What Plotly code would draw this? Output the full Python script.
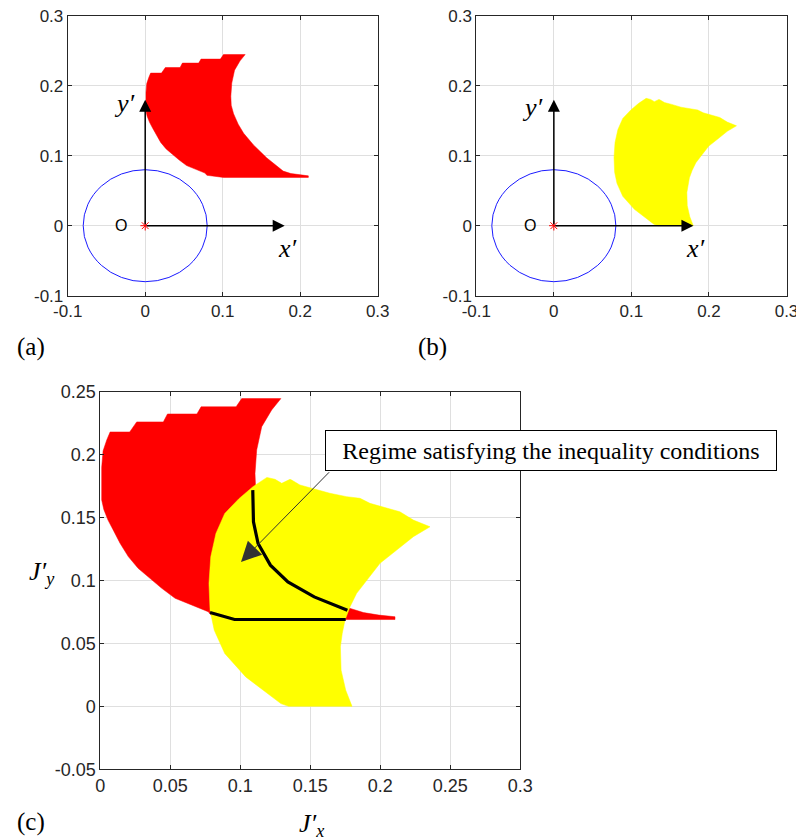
import plotly.graph_objects as go

OFF = 0
W, H = 796, 840

# ---------------- data ----------------
# red region (workspace of condition 1)
red_x = [0.001, 0.002, 0.0046, 0.007, 0.021, 0.026, 0.045, 0.048, 0.069, 0.072, 0.097, 0.101, 0.129,
         0.1224, 0.1153, 0.1117, 0.1105, 0.111, 0.114, 0.12, 0.127, 0.14, 0.157, 0.168, 0.178, 0.188,
         0.199, 0.2105, 0.2105, 0.101, 0.0796, 0.0771, 0.0653, 0.0534, 0.0439, 0.0355, 0.027, 0.02,
         0.0141, 0.0093, 0.0055, 0.0025, 0.001, 0.001]
red_y = [0.19, 0.203, 0.2116, 0.218, 0.218, 0.226, 0.226, 0.2323, 0.2323, 0.238, 0.238, 0.2445, 0.2445,
         0.2355, 0.2222, 0.2037, 0.185, 0.172, 0.16, 0.145, 0.132, 0.115, 0.0967, 0.087, 0.078, 0.0745,
         0.0725, 0.0712, 0.069, 0.069, 0.072, 0.0752, 0.0805, 0.0859, 0.0938, 0.1017, 0.1097, 0.119,
         0.1296, 0.140, 0.148, 0.1565, 0.164, 0.19]

# yellow region (workspace of condition 2)
yel_x = [0.119, 0.109, 0.099, 0.0889, 0.0826, 0.0789, 0.0776, 0.0784, 0.0814, 0.0889, 0.1039, 0.119,
         0.129, 0.1345, 0.1798, 0.1753, 0.172, 0.1715, 0.1728, 0.1748, 0.1784, 0.1831, 0.1903, 0.1998,
         0.2117, 0.2236, 0.2355, 0.2236, 0.214, 0.2046, 0.1926, 0.1855, 0.176, 0.164, 0.152, 0.1426,
         0.1367, 0.1355, 0.1296, 0.1248, 0.119]
yel_y = [0.1819, 0.1745, 0.165, 0.1533, 0.1374, 0.1188, 0.0976, 0.0764, 0.0605, 0.042, 0.0234, 0.0102,
         0.0022, 0.0, 0.0, 0.0128, 0.0287, 0.0473, 0.0579, 0.0686, 0.0792, 0.0898, 0.1004, 0.1137,
         0.1242, 0.1348, 0.1427, 0.148, 0.1546, 0.1573, 0.1613, 0.1653, 0.1666, 0.1693, 0.1733, 0.1759,
         0.1798, 0.1804, 0.1772, 0.1804, 0.1819]

# boundary of regime satisfying the inequality conditions
curve_x = [0.1089, 0.1094, 0.1127, 0.1215, 0.134, 0.1528, 0.1765]
curve_y = [0.1718, 0.1466, 0.1294, 0.1122, 0.0989, 0.087, 0.0764]
base_x = [0.0784, 0.0959, 0.1753]
base_y = [0.0746, 0.069, 0.069]

circle_r = 0.08
axis_arrow_len = 0.18

top_ticks = [-0.1, 0, 0.1, 0.2, 0.3]
top_ticktext = ["-0.1", "0", "0.1", "0.2", "0.3"]
c_xticks = [0, 0.05, 0.1, 0.15, 0.2, 0.25, 0.3]
c_xticktext = ["0", "0.05", "0.1", "0.15", "0.2", "0.25", "0.3"]
c_yticks = [-0.05, 0, 0.05, 0.1, 0.15, 0.2, 0.25]
c_yticktext = ["-0.05", "0", "0.05", "0.1", "0.15", "0.2", "0.25"]

annot_text = "Regime satisfying the inequality conditions"
annot_tip = (0.1005, 0.1147)
annot_tail = (0.1645, 0.1872)

# ---------------- figure ----------------
RED = "#ff0000"
YEL = "#ffff00"
AX = "#262626"
GRID = "#dfdfdf"
SERIF = "Liberation Serif"
SANS = "Liberation Sans"

fig = go.Figure()

def poly(x, y, color, xa, ya):
    fig.add_trace(go.Scatter(x=x, y=y, fill="toself", fillcolor=color, mode="lines",
                             line=dict(width=0.5, color=color), xaxis=xa, yaxis=ya,
                             hoverinfo="skip", showlegend=False))

poly(red_x, red_y, RED, "x", "y")
poly(yel_x, yel_y, YEL, "x2", "y2")
poly(red_x, red_y, RED, "x3", "y3")
poly(yel_x, yel_y, YEL, "x3", "y3")

for xs, ys in [(curve_x, curve_y), (base_x, base_y)]:
    fig.add_trace(go.Scatter(x=xs, y=ys, mode="lines", line=dict(color="black", width=3.2),
                             xaxis="x3", yaxis="y3", hoverinfo="skip", showlegend=False))

# origin markers
for xa, ya in [("x", "y"), ("x2", "y2")]:
    fig.add_trace(go.Scatter(x=[0], y=[0], mode="markers",
                             marker=dict(symbol="asterisk-open", size=8, color=RED,
                                         line=dict(color=RED, width=1)),
                             xaxis=xa, yaxis=ya, hoverinfo="skip", showlegend=False))

def px2paper_x(p):
    return (p - OFF) / W

def px2paper_y(p):
    return 1 - (p - OFF) / H

dom_a_x = [px2paper_x(67.7), px2paper_x(377.7)]
dom_b_x = [px2paper_x(476.3), px2paper_x(786.5)]
dom_top_y = [px2paper_y(295.7), px2paper_y(15.7)]
dom_c_x = [px2paper_x(100.3), px2paper_x(520.3)]
dom_c_y = [px2paper_y(769.3), px2paper_y(391.7)]

def axis_style(dom, rng, tv, tt, anchor, size):
    return dict(domain=dom, range=rng, tickvals=tv, ticktext=tt, anchor=anchor,
                automargin=False, ticklabeloverflow="allow",
                showline=True, linecolor=AX, linewidth=1, mirror="ticks",
                ticks="inside", ticklen=4, tickcolor=AX, tickwidth=1,
                showgrid=True, gridcolor=GRID, gridwidth=1, zeroline=False,
                tickfont=dict(family=SANS, size=size, color=AX), fixedrange=True)

fig.update_layout(
    width=W, height=H, margin=dict(l=0, r=0, t=0, b=0, autoexpand=False),
    paper_bgcolor="white", plot_bgcolor="white", showlegend=False,
    xaxis=axis_style(dom_a_x, [-0.1, 0.3], top_ticks, top_ticktext, "y", 17),
    yaxis=axis_style(dom_top_y, [-0.1, 0.3], top_ticks, top_ticktext, "x", 17),
    xaxis2=axis_style(dom_b_x, [-0.1, 0.3], top_ticks, top_ticktext, "y2", 17),
    yaxis2=axis_style(dom_top_y, [-0.1, 0.3], top_ticks, top_ticktext, "x2", 17),
    xaxis3=axis_style(dom_c_x, [0, 0.3], c_xticks, c_xticktext, "y3", 18),
    yaxis3=axis_style(dom_c_y, [-0.05, 0.25], c_yticks, c_yticktext, "x3", 18),
)

shapes = []
for xa, ya in [("x", "y"), ("x2", "y2")]:
    shapes.append(dict(type="circle", xref=xa, yref=ya, x0=-circle_r, x1=circle_r,
                       y0=-circle_r, y1=circle_r, line=dict(color="#1a1aff", width=1)))
fig.update_layout(shapes=shapes)

ann = []
for xa, ya, ylab_y in [("x", "y", 0.174), ("x2", "y2", 0.169)]:
    # axis arrows
    ann.append(dict(x=0, y=axis_arrow_len, ax=0, ay=0, xref=xa, yref=ya, axref=xa, ayref=ya,
                    text="", showarrow=True, arrowhead=2, arrowsize=1.6, arrowwidth=1.5,
                    arrowcolor="black"))
    ann.append(dict(x=axis_arrow_len, y=0, ax=0, ay=0, xref=xa, yref=ya, axref=xa, ayref=ya,
                    text="", showarrow=True, arrowhead=2, arrowsize=1.6, arrowwidth=1.5,
                    arrowcolor="black"))
    ann.append(dict(x=-0.027, y=ylab_y, xref=xa, yref=ya, text="<i>y′</i>", showarrow=False,
                    xanchor="center", yanchor="middle",
                    font=dict(family=SERIF, size=26, color="black")))
    ann.append(dict(x=0.183, y=-0.033, xref=xa, yref=ya, text="<i>x′</i>", showarrow=False,
                    xanchor="center", yanchor="middle",
                    font=dict(family=SERIF, size=26, color="black")))
    ann.append(dict(x=-0.031, y=0, xref=xa, yref=ya, text="O", showarrow=False,
                    xanchor="center", yanchor="middle",
                    font=dict(family=SANS, size=16, color="black")))

def paper_text(text, cx, cy, size, family=SERIF):
    return dict(x=px2paper_x(cx), y=px2paper_y(cy), xref="paper", yref="paper", text=text,
                xanchor="center", yanchor="middle", showarrow=False,
                font=dict(family=family, size=size, color="black"))

# panel labels
for lab, cx, cy in [("(a)", 31, 347), ("(b)", 432, 347), ("(c)", 31, 822)]:
    ann.append(paper_text(lab, cx, cy, 25))

# axis titles of (c)
ann.append(paper_text("<i>J′</i><sub><i>y</i></sub>", 42, 573, 26))
ann.append(paper_text("<i>J′</i><sub><i>x</i></sub>", 311, 825, 26))

# callout
ann.append(dict(x=annot_tip[0], y=annot_tip[1], ax=annot_tail[0], ay=annot_tail[1],
                xref="x3", yref="y3", axref="x3", ayref="y3", text="", showarrow=True,
                arrowhead=2, arrowsize=4, arrowwidth=1, arrowcolor="#333333"))
box = paper_text(annot_text, 551.4, 450.4, 24)
box.update(bgcolor="white", bordercolor="black", borderwidth=1, borderpad=1, width=448, height=37)
ann.append(box)
fig.update_layout(annotations=ann)

fig.write_html("out.html", config={"displayModeBar": False},
               post_script="document.body.style.margin='0px';")
